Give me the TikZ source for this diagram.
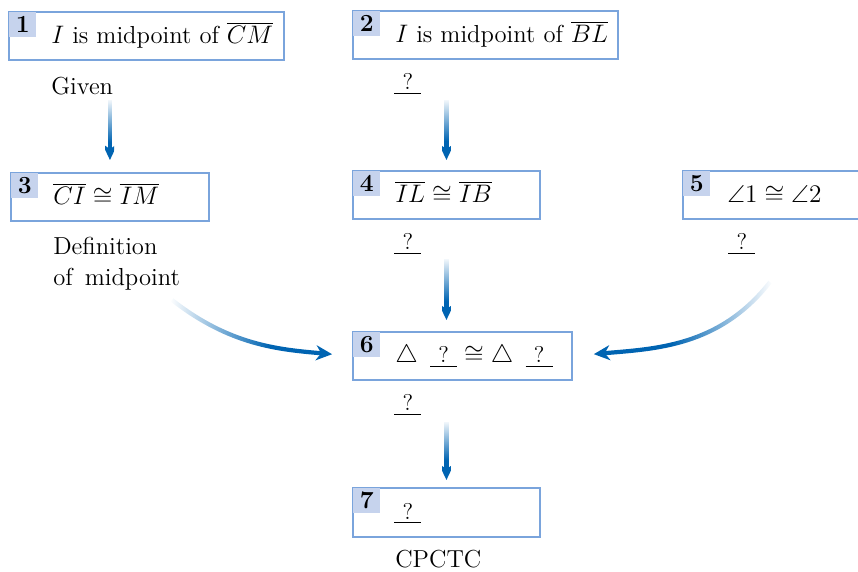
\documentclass[tikz,border=0pt]{standalone}
\usepackage{amsmath}
\usepackage{amssymb}
\usepackage{tikz}
\usetikzlibrary{arrows.meta,fadings}
\definecolor{boxblue}{RGB}{122,164,220}
\definecolor{tabblue}{RGB}{198,211,237}
\definecolor{flowblue}{RGB}{0,100,178}
\newcommand{\qblank}{\underline{\makebox[0.54cm]{\fontsize{13}{14}\selectfont ?}}}
% fadings for the arrows (white = opaque, path spans 25bp..75bp)
\pgfdeclareverticalshading{flowshadev}{100bp}{color(0bp)=(white); color(46bp)=(white); color(75bp)=(black); color(100bp)=(black)}
\pgfdeclarefading{flowdown}{\pgfuseshading{flowshadev}}
\pgfdeclarehorizontalshading{flowshader}{100bp}{color(0bp)=(black); color(25bp)=(black); color(52bp)=(white); color(100bp)=(white)}
\pgfdeclarefading{flowright}{\pgfuseshading{flowshader}}
\pgfdeclarehorizontalshading{flowshadel}{100bp}{color(0bp)=(white); color(50bp)=(white); color(75bp)=(black); color(100bp)=(black)}
\pgfdeclarefading{flowleft}{\pgfuseshading{flowshadel}}

\begin{document}
\begin{tikzpicture}[x=0.02cm, y=0.02cm,
  stmt/.style={rectangle, draw=boxblue, line width=1.1pt, anchor=north west, minimum height=0.96cm, inner sep=0pt},
  numtab/.style={rectangle, fill=tabblue, anchor=north west, minimum width=0.54cm, minimum height=0.5cm, inner sep=0pt, font=\fontsize{14}{16}\selectfont\bfseries},
  stxt/.style={anchor=base west, inner sep=0pt, font=\fontsize{14}{17}\selectfont},
  rsn/.style={anchor=base west, inner sep=0pt, align=left, font=\fontsize{14}{18}\selectfont},
  flow/.style={draw=flowblue, line width=2.4pt, -{Stealth[length=0.32cm, width=0.3cm, inset=0.1cm]}}
]
\clip (0,0) rectangle (858,-571);

% statement boxes
\node[stmt, minimum width=5.5cm] (s1) at (8,-11) {};
\node[stmt, minimum width=5.3cm] (s2) at (352,-10) {};
\node[stmt, minimum width=3.96cm] (s3) at (10,-172) {};
\node[stmt, minimum width=3.74cm] (s4) at (352,-170) {};
\node[stmt, minimum width=4.2cm] (s5) at (682,-170) {};
\node[stmt, minimum width=4.38cm] (s6) at (352,-331) {};
\node[stmt, minimum width=3.74cm, minimum height=0.98cm] (s7) at (352,-487) {};

% number tabs
\foreach \i in {1,...,7}
  \node[numtab] (n\i) at ([shift={(0.5pt,-0.5pt)}]s\i.north west) {\i};

% statements
\node[stxt] (t1) at ([shift={(0.86cm,-0.66cm)}]s1.north west) {$I$\ is midpoint of $\overline{CM}$};
\node[stxt] (t2) at ([shift={(0.86cm,-0.66cm)}]s2.north west) {$I$\ is midpoint of $\overline{BL}$};
\node[stxt] (t3) at ([shift={(0.86cm,-0.66cm)}]s3.north west) {$\overline{CI}\cong\overline{IM}$};
\node[stxt] (t4) at ([shift={(0.86cm,-0.66cm)}]s4.north west) {$\overline{IL}\cong\overline{IB}$};
\node[stxt] (t5) at ([shift={(0.9cm,-0.66cm)}]s5.north west) {$\angle 1\cong\angle 2$};
\node[stxt] (t6) at ([shift={(0.86cm,-0.64cm)}]s6.north west) {$\triangle$\enspace\qblank${}\cong\triangle$\enspace\qblank};
\node[stxt] (t7) at ([shift={(0.84cm,-0.64cm)}]s7.north west) {\qblank};

% reasons
\node[rsn] (r1) at ([shift={(0.86cm,-0.68cm)}]s1.south west) {Given};
\node[rsn] (r2) at ([shift={(0.84cm,-0.6cm)}]s2.south west) {\qblank};
\node[rsn] (r3) at ([shift={(0.86cm,-1.28cm)}]s3.south west) {Definition\\of\ \,midpoint};
\node[rsn] (r4) at ([shift={(0.84cm,-0.6cm)}]s4.south west) {\qblank};
\node[rsn] (r5) at ([shift={(0.92cm,-0.6cm)}]s5.south west) {\qblank};
\node[rsn] (r6) at ([shift={(0.84cm,-0.6cm)}]s6.south west) {\qblank};
\node[rsn] (r7) at ([shift={(0.86cm,-0.6cm)}]s7.south west) {CPCTC};

% arrows
\coordinate (f13) at ([yshift=1.44cm]s3.north);
\coordinate (f24) at ([yshift=1.4cm]s4.north);
\coordinate (f46) at ([yshift=-0.78cm]s4.south);
\coordinate (f67) at ([yshift=1.3cm]s7.north);
\coordinate (f36) at (172,-300);
\coordinate (f56) at (770,-282);

\draw[flow, path fading=flowdown, shorten >=0.24cm] (f13) -- (s3.north);
\draw[flow, path fading=flowdown, shorten >=0.2cm] (f24) -- (s4.north);
\draw[flow, path fading=flowdown, shorten >=0.22cm] (f46) -- (f46 |- s6.north);
\draw[flow, path fading=flowdown, shorten >=0.14cm] (f67) -- (s7.north);
\draw[flow, path fading=flowright, shorten >=0.4cm] (f36) to[out=-38, in=175] (s6.west);
\draw[flow, path fading=flowleft, shorten >=0.42cm] (f56) to[out=-128, in=5] (s6.east);
\end{tikzpicture}
\end{document}
